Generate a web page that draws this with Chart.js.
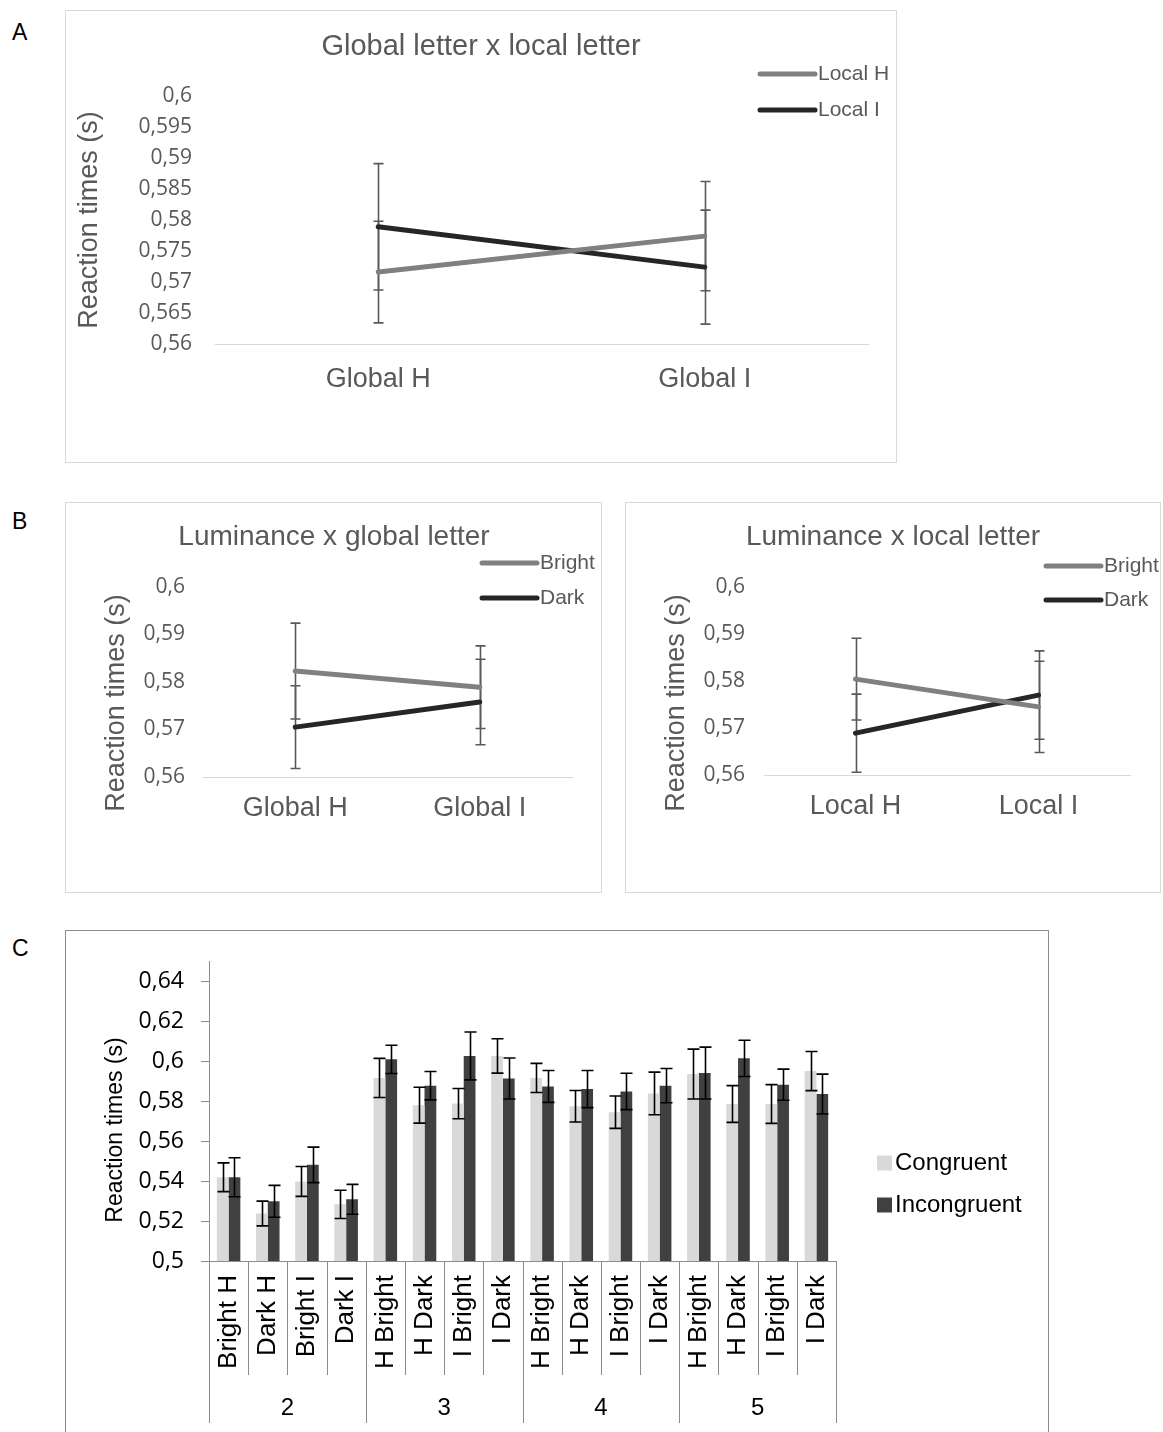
<!DOCTYPE html>
<html>
<head>
<meta charset="utf-8">
<script src="https://cdn.jsdelivr.net/npm/chart.js@4.4.0/dist/chart.umd.min.js"></script>
<style>
body { margin:0; background:#fff; width:1163px; height:1432px; overflow:hidden; position:relative; font-family:"Liberation Sans", Arial, sans-serif; }
.box { position:absolute; border:1px solid #d9d9d9; background:#fff; }
.box canvas { display:block; }
.letter { position:absolute; font-size:23px; color:#000; }
</style>
</head>
<body>
<div class="letter" style="left:12px;top:19px">A</div>
<div class="letter" style="left:12px;top:508px">B</div>
<div class="letter" style="left:12px;top:935px">C</div>

<div class="box" style="left:65px;top:10px"><canvas id="chartA" width="830" height="451"></canvas></div>
<div class="box" style="left:65px;top:502px"><canvas id="chartB1" width="535" height="389"></canvas></div>
<div class="box" style="left:625px;top:502px"><canvas id="chartB2" width="534" height="389"></canvas></div>
<div class="box" style="left:65px;top:930px;border-color:#8c8c8c;border-bottom:none"><canvas id="chartC" width="982" height="501"></canvas></div>

<script>
// A: global letter x local letter
var globalLabels = ['Global H', 'Global I'];
var localH = [0.5716, 0.5774];
var localHErr = [0.0082, 0.0088];
var localI = [0.5789, 0.5724];
var localIErr = [0.0102, 0.0092];

// B left: luminance x global letter
var brightGlobal = [0.5823, 0.5789];
var brightGlobalErr = [0.0101, 0.0087];
var darkGlobal = [0.5705, 0.5758];
var darkGlobalErr = [0.0087, 0.0090];

// B right: luminance x local letter
var localLabels = ['Local H', 'Local I'];
var brightLocal = [0.5804, 0.5745];
var brightLocalErr = [0.0087, 0.0097];
var darkLocal = [0.5689, 0.5770];
var darkLocalErr = [0.0083, 0.0094];

// C: congruent / incongruent per condition
var condLabels = ['Bright H', 'Dark H', 'Bright I', 'Dark I',
  'H Bright', 'H Dark', 'I Bright', 'I Dark',
  'H Bright', 'H Dark', 'I Bright', 'I Dark',
  'H Bright', 'H Dark', 'I Bright', 'I Dark'];
var groupLabels = ['2', '3', '4', '5'];
var congruent = [0.5420, 0.5238, 0.5399, 0.5284, 0.5918, 0.5781, 0.5789, 0.6028,
  0.5918, 0.5776, 0.5746, 0.5840, 0.5937, 0.5787, 0.5787, 0.5952];
var congruentErr = [0.0072, 0.0062, 0.0075, 0.0071, 0.0098, 0.0090, 0.0076, 0.0086,
  0.0073, 0.0079, 0.0081, 0.0107, 0.0125, 0.0092, 0.0097, 0.0098];
var incongruent = [0.5420, 0.5299, 0.5482, 0.5309, 0.6011, 0.5879, 0.6028, 0.5915,
  0.5875, 0.5862, 0.5850, 0.5879, 0.5942, 0.6016, 0.5884, 0.5837];
var incongruentErr = [0.0098, 0.0080, 0.0089, 0.0075, 0.0071, 0.0071, 0.0120, 0.0103,
  0.0080, 0.0093, 0.0091, 0.0086, 0.0130, 0.0091, 0.0078, 0.0100];

var GREY = '#808080', BLACK = '#262626', TXT = '#595959';

function fmt(v) {
  return String(Math.round(v * 1000) / 1000).replace('.', ',');
}

function drawErrors(chart, o) {
  var ctx = chart.ctx, ys = chart.scales.y;
  ctx.save();
  ctx.strokeStyle = o.color;
  ctx.lineWidth = o.width;
  chart.data.datasets.forEach(function(ds, i) {
    if (!ds.errors) return;
    chart.getDatasetMeta(i).data.forEach(function(el, j) {
      var top = ys.getPixelForValue(ds.data[j] + ds.errors[j]);
      var bot = ys.getPixelForValue(ds.data[j] - ds.errors[j]);
      var x = Math.round(el.x) + 0.5;
      ctx.beginPath();
      ctx.moveTo(x, top); ctx.lineTo(x, bot);
      ctx.moveTo(x - o.cap, top); ctx.lineTo(x + o.cap, top);
      ctx.moveTo(x - o.cap, bot); ctx.lineTo(x + o.cap, bot);
      ctx.stroke();
    });
  });
  ctx.restore();
}

var errorBars = {
  id: 'errorBars',
  beforeDatasetsDraw: function(chart, args, o) { if (o.under) drawErrors(chart, o); },
  afterDatasetsDraw: function(chart, args, o) { if (!o.under) drawErrors(chart, o); }
};

// titles, axis titles and legends at fixed spots like the original office charts
var panelText = {
  id: 'panelText',
  afterDraw: function(chart, args, o) {
    var ctx = chart.ctx;
    ctx.save();
    if (o.title) {
      ctx.font = o.title.font;
      ctx.fillStyle = o.title.color;
      ctx.textAlign = 'center';
      ctx.textBaseline = 'middle';
      ctx.fillText(o.title.text, o.title.x, o.title.y);
    }
    if (o.axisTitle) {
      ctx.save();
      ctx.translate(o.axisTitle.x, o.axisTitle.y);
      ctx.rotate(-Math.PI / 2);
      ctx.font = o.axisTitle.font;
      ctx.fillStyle = o.axisTitle.color;
      ctx.textAlign = 'center';
      ctx.textBaseline = 'middle';
      ctx.fillText(o.axisTitle.text, 0, 0);
      ctx.restore();
    }
    if (o.legend) {
      var lg = o.legend;
      chart.data.datasets.forEach(function(ds, i) {
        var y = lg.y + i * lg.gap;
        if (lg.type === 'line') {
          ctx.strokeStyle = ds.borderColor;
          ctx.lineWidth = ds.borderWidth;
          ctx.lineCap = 'round';
          ctx.beginPath();
          ctx.moveTo(lg.x, y);
          ctx.lineTo(lg.x + lg.len, y);
          ctx.stroke();
        } else {
          ctx.fillStyle = ds.backgroundColor;
          ctx.fillRect(lg.x, y - lg.len / 2, lg.len, lg.len);
        }
        ctx.font = lg.font;
        ctx.fillStyle = lg.color;
        ctx.textAlign = 'left';
        ctx.textBaseline = 'middle';
        ctx.fillText(ds.label, lg.x + lg.len + 3, y);
      });
    }
    ctx.restore();
  }
};

function lineChart(id, labels, sets, lay) {
  return new Chart(document.getElementById(id), {
    type: 'line',
    data: {
      labels: labels,
      datasets: sets.map(function(s) {
        return {
          label: s.label, data: s.data, errors: s.err,
          borderColor: s.color, backgroundColor: s.color,
          borderWidth: 5, borderCapStyle: 'round', pointRadius: 0, tension: 0
        };
      })
    },
    options: {
      responsive: false,
      animation: false,
      layout: { padding: { left: 0, top: lay.top, right: lay.right, bottom: lay.bottom } },
      plugins: {
        legend: { display: false },
        tooltip: { enabled: false },
        errorBars: { under: true, color: '#595959', width: 1.6, cap: 5 },
        panelText: lay.text
      },
      scales: {
        x: {
          offset: true,
          grid: { display: false, drawTicks: false },
          border: { display: true, color: '#d9d9d9', width: 1 },
          ticks: { padding: lay.xPad, color: TXT, font: { family: 'Liberation Sans', size: 27 } },
          afterFit: function(s) { s.height = lay.xHeight; }
        },
        y: {
          min: 0.56, max: 0.6,
          grid: { display: false, drawTicks: false },
          border: { display: false },
          ticks: { stepSize: lay.step, padding: lay.yPad, color: TXT,
            font: { family: 'Open Sans', size: 21 }, callback: fmt },
          afterFit: function(s) { s.width = lay.yWidth; }
        }
      }
    },
    plugins: [errorBars, panelText]
  });
}

var axisFont = '27px "Liberation Sans"';
var legFont = '21px "Liberation Sans"';

lineChart('chartA', globalLabels, [
  { label: 'Local H', data: localH, err: localHErr, color: GREY },
  { label: 'Local I', data: localI, err: localIErr, color: BLACK }
], {
  top: 85, right: 28, bottom: 58, xHeight: 60, yWidth: 149, xPad: 19, yPad: 23, step: 0.005,
  text: {
    title: { text: 'Global letter x local letter', x: 415, y: 36, font: '29px "Liberation Sans"', color: TXT },
    axisTitle: { text: 'Reaction times (s)', x: 24, y: 209, font: axisFont, color: TXT },
    legend: { type: 'line', x: 694, y: 63, gap: 36, len: 55, font: legFont, color: TXT }
  }
});

lineChart('chartB1', globalLabels, [
  { label: 'Bright', data: brightGlobal, err: brightGlobalErr, color: GREY },
  { label: 'Dark', data: darkGlobal, err: darkGlobalErr, color: BLACK }
], {
  top: 84, right: 29, bottom: 55, xHeight: 60, yWidth: 137, xPad: 15, yPad: 18, step: 0.01,
  text: {
    title: { text: 'Luminance x global letter', x: 268, y: 34, font: '28px "Liberation Sans"', color: TXT },
    axisTitle: { text: 'Reaction times (s)', x: 51, y: 200, font: axisFont, color: TXT },
    legend: { type: 'line', x: 416, y: 60, gap: 35, len: 55, font: legFont, color: TXT }
  }
});

lineChart('chartB2', localLabels, [
  { label: 'Bright', data: brightLocal, err: brightLocalErr, color: GREY },
  { label: 'Dark', data: darkLocal, err: darkLocalErr, color: BLACK }
], {
  top: 84, right: 30, bottom: 57, xHeight: 60, yWidth: 138, xPad: 15, yPad: 19, step: 0.01,
  text: {
    title: { text: 'Luminance x local letter', x: 267, y: 34, font: '28px "Liberation Sans"', color: TXT },
    axisTitle: { text: 'Reaction times (s)', x: 51, y: 200, font: axisFont, color: TXT },
    legend: { type: 'line', x: 420, y: 63, gap: 34, len: 55, font: legFont, color: TXT }
  }
});

// two level category table under the bars of C
var groupTable = {
  id: 'groupTable',
  afterDraw: function(chart) {
    var ctx = chart.ctx, xs = chart.scales.x;
    var half = (xs.getPixelForValue(1) - xs.getPixelForValue(0)) / 2;
    var y0 = chart.chartArea.bottom;
    var per = condLabels.length / groupLabels.length;
    ctx.save();
    ctx.strokeStyle = '#8c8c8c';
    ctx.lineWidth = 1;
    for (var i = 0; i <= condLabels.length; i++) {
      var x = Math.round(xs.getPixelForValue(i) - half) + 0.5;
      var len = (i % per === 0) ? 162 : 114;
      ctx.beginPath();
      ctx.moveTo(x, y0);
      ctx.lineTo(x, y0 + len);
      ctx.stroke();
    }
    ctx.fillStyle = '#000';
    ctx.font = '24px "Liberation Sans"';
    ctx.textAlign = 'center';
    ctx.textBaseline = 'middle';
    groupLabels.forEach(function(g, k) {
      var a = xs.getPixelForValue(k * per) - half;
      var b = xs.getPixelForValue((k + 1) * per - 1) + half;
      ctx.fillText(g, (a + b) / 2, y0 + 147);
    });
    ctx.restore();
  }
};

new Chart(document.getElementById('chartC'), {
  type: 'bar',
  data: {
    labels: condLabels,
    datasets: [
      { label: 'Congruent', data: congruent, errors: congruentErr, backgroundColor: '#d9d9d9' },
      { label: 'Incongruent', data: incongruent, errors: incongruentErr, backgroundColor: '#404040' }
    ]
  },
  options: {
    responsive: false,
    animation: false,
    datasets: { bar: { categoryPercentage: 0.6, barPercentage: 1.0 } },
    layout: { padding: { left: 0, top: 29, right: 212, bottom: 0 } },
    plugins: {
      legend: { display: false },
      tooltip: { enabled: false },
      errorBars: { under: false, color: '#000', width: 1.6, cap: 6 },
      panelText: {
        axisTitle: { text: 'Reaction times (s)', x: 50, y: 199, font: '23px "Liberation Sans"', color: '#000' },
        legend: { type: 'box', x: 811, y: 232, gap: 42, len: 15, font: '24px "Liberation Sans"', color: '#000' }
      }
    },
    scales: {
      x: {
        grid: { display: false, drawTicks: false },
        border: { display: true, color: '#8c8c8c', width: 1 },
        ticks: { autoSkip: false, minRotation: 90, maxRotation: 90, padding: 14, color: '#000',
          font: { family: 'Liberation Sans', size: 26 } },
        afterFit: function(s) { s.height = 171; }
      },
      y: {
        min: 0.5, max: 0.65,
        grid: { display: true, drawOnChartArea: false, drawTicks: true, tickLength: 8, color: '#8c8c8c' },
        border: { display: true, color: '#8c8c8c', width: 1 },
        ticks: { stepSize: 0.02, includeBounds: false, padding: 17, color: '#000',
          font: { family: 'Open Sans', size: 23 }, callback: fmt },
        afterFit: function(s) { s.width = 143; }
      }
    }
  },
  plugins: [errorBars, panelText, groupTable]
});
</script>
</body>
</html>
